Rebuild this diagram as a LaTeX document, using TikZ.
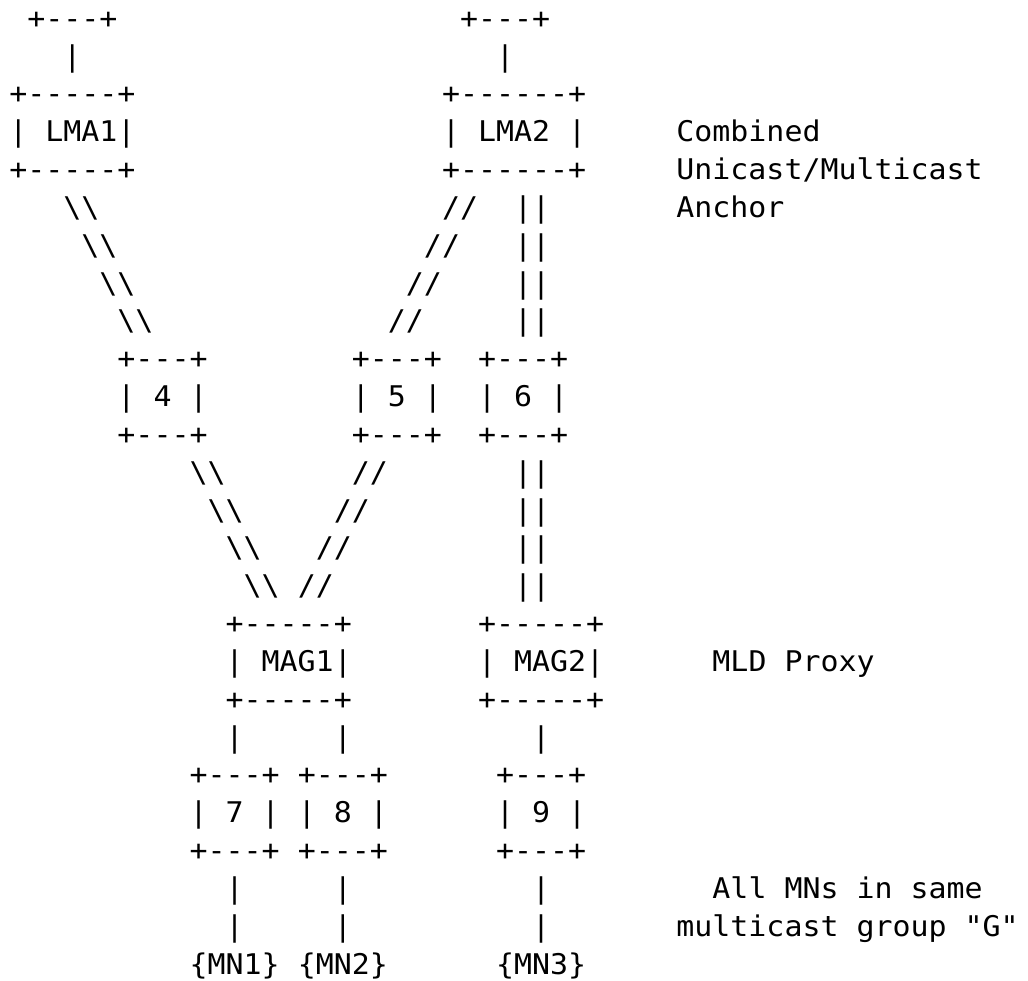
\documentclass[tikz,border=0pt]{standalone}
\usepackage{fontspec}
\setmonofont{DejaVu Sans Mono}
\newcommand{\bsl}{\textbackslash}
\tikzset{art/.style={inner sep=0pt,outer sep=0pt,anchor=base west,xscale=1.05,
    font=\ttfamily\fontsize{28.5}{34}\selectfont}}

\begin{document}
\begin{tikzpicture}[x=18.03pt,y=-37.83pt]
\useasboundingbox (-9.3pt,28.3pt) rectangle (1018.7pt,-952.7pt);
% uplinks above the anchors
\node[art] (up1) at (1,0) {+---+};
\node[art] (up2) at (25,0) {+---+};
\node[art] (up1v) at (3,1) {|};
\node[art] (up2v) at (27,1) {|};
% LMA1 and LMA2
\node[art] (lma1t) at (0,2) {+-----+};
\node[art] (lma1) at (0,3) {| LMA1|};
\node[art] (lma1b) at (0,4) {+-----+};
\node[art] (lma2t) at (24,2) {+------+};
\node[art] (lma2) at (24,3) {| LMA2 |};
\node[art] (lma2b) at (24,4) {+------+};
\node[art] (anchorA) at (37,3) {Combined};
\node[art] (anchorB) at (37,4) {Unicast/Multicast};
\node[art] (anchorC) at (37,5) {Anchor};
% links LMA -> 4,5,6
\foreach \i in {0,...,3} {
  \node[art] (ua\i) at (3+\i,5+\i) {\bsl\bsl};
  \node[art] (ub\i) at (24-\i,5+\i) {//};
  \node[art] (uc\i) at (28,5+\i) {||};
}
% routers 4, 5, 6
\node[art] (r4t) at (6,9) {+---+};
\node[art] (r4) at (6,10) {| 4 |};
\node[art] (r4b) at (6,11) {+---+};
\node[art] (r5t) at (19,9) {+---+};
\node[art] (r5) at (19,10) {| 5 |};
\node[art] (r5b) at (19,11) {+---+};
\node[art] (r6t) at (26,9) {+---+};
\node[art] (r6) at (26,10) {| 6 |};
\node[art] (r6b) at (26,11) {+---+};
% links 4,5,6 -> MAG
\foreach \i in {0,...,3} {
  \node[art] (da\i) at (10+\i,12+\i) {\bsl\bsl};
  \node[art] (db\i) at (19-\i,12+\i) {//};
  \node[art] (dc\i) at (28,12+\i) {||};
}
% MAG1 and MAG2
\node[art] (mag1t) at (12,16) {+-----+};
\node[art] (mag1) at (12,17) {| MAG1|};
\node[art] (mag1b) at (12,18) {+-----+};
\node[art] (mag2t) at (26,16) {+-----+};
\node[art] (mag2) at (26,17) {| MAG2|};
\node[art] (mag2b) at (26,18) {+-----+};
\node[art] (proxy) at (39,17) {MLD Proxy};
\node[art] (m1a) at (12,19) {|};
\node[art] (m1b) at (18,19) {|};
\node[art] (m2a) at (29,19) {|};
% routers 7, 8, 9
\node[art] (r7t) at (10,20) {+---+};
\node[art] (r7) at (10,21) {| 7 |};
\node[art] (r7b) at (10,22) {+---+};
\node[art] (r8t) at (16,20) {+---+};
\node[art] (r8) at (16,21) {| 8 |};
\node[art] (r8b) at (16,22) {+---+};
\node[art] (r9t) at (27,20) {+---+};
\node[art] (r9) at (27,21) {| 9 |};
\node[art] (r9b) at (27,22) {+---+};
% mobile nodes
\foreach \r in {23,24} {
  \node[art] (v7\r) at (12,\r) {|};
  \node[art] (v8\r) at (18,\r) {|};
  \node[art] (v9\r) at (29,\r) {|};
}
\node[art] (groupA) at (39,23) {All MNs in same};
\node[art] (groupB) at (37,24) {multicast group "G"};
\node[art] (mn1) at (10,25) {\{MN1\}};
\node[art] (mn2) at (16,25) {\{MN2\}};
\node[art] (mn3) at (27,25) {\{MN3\}};
\end{tikzpicture}
\end{document}
